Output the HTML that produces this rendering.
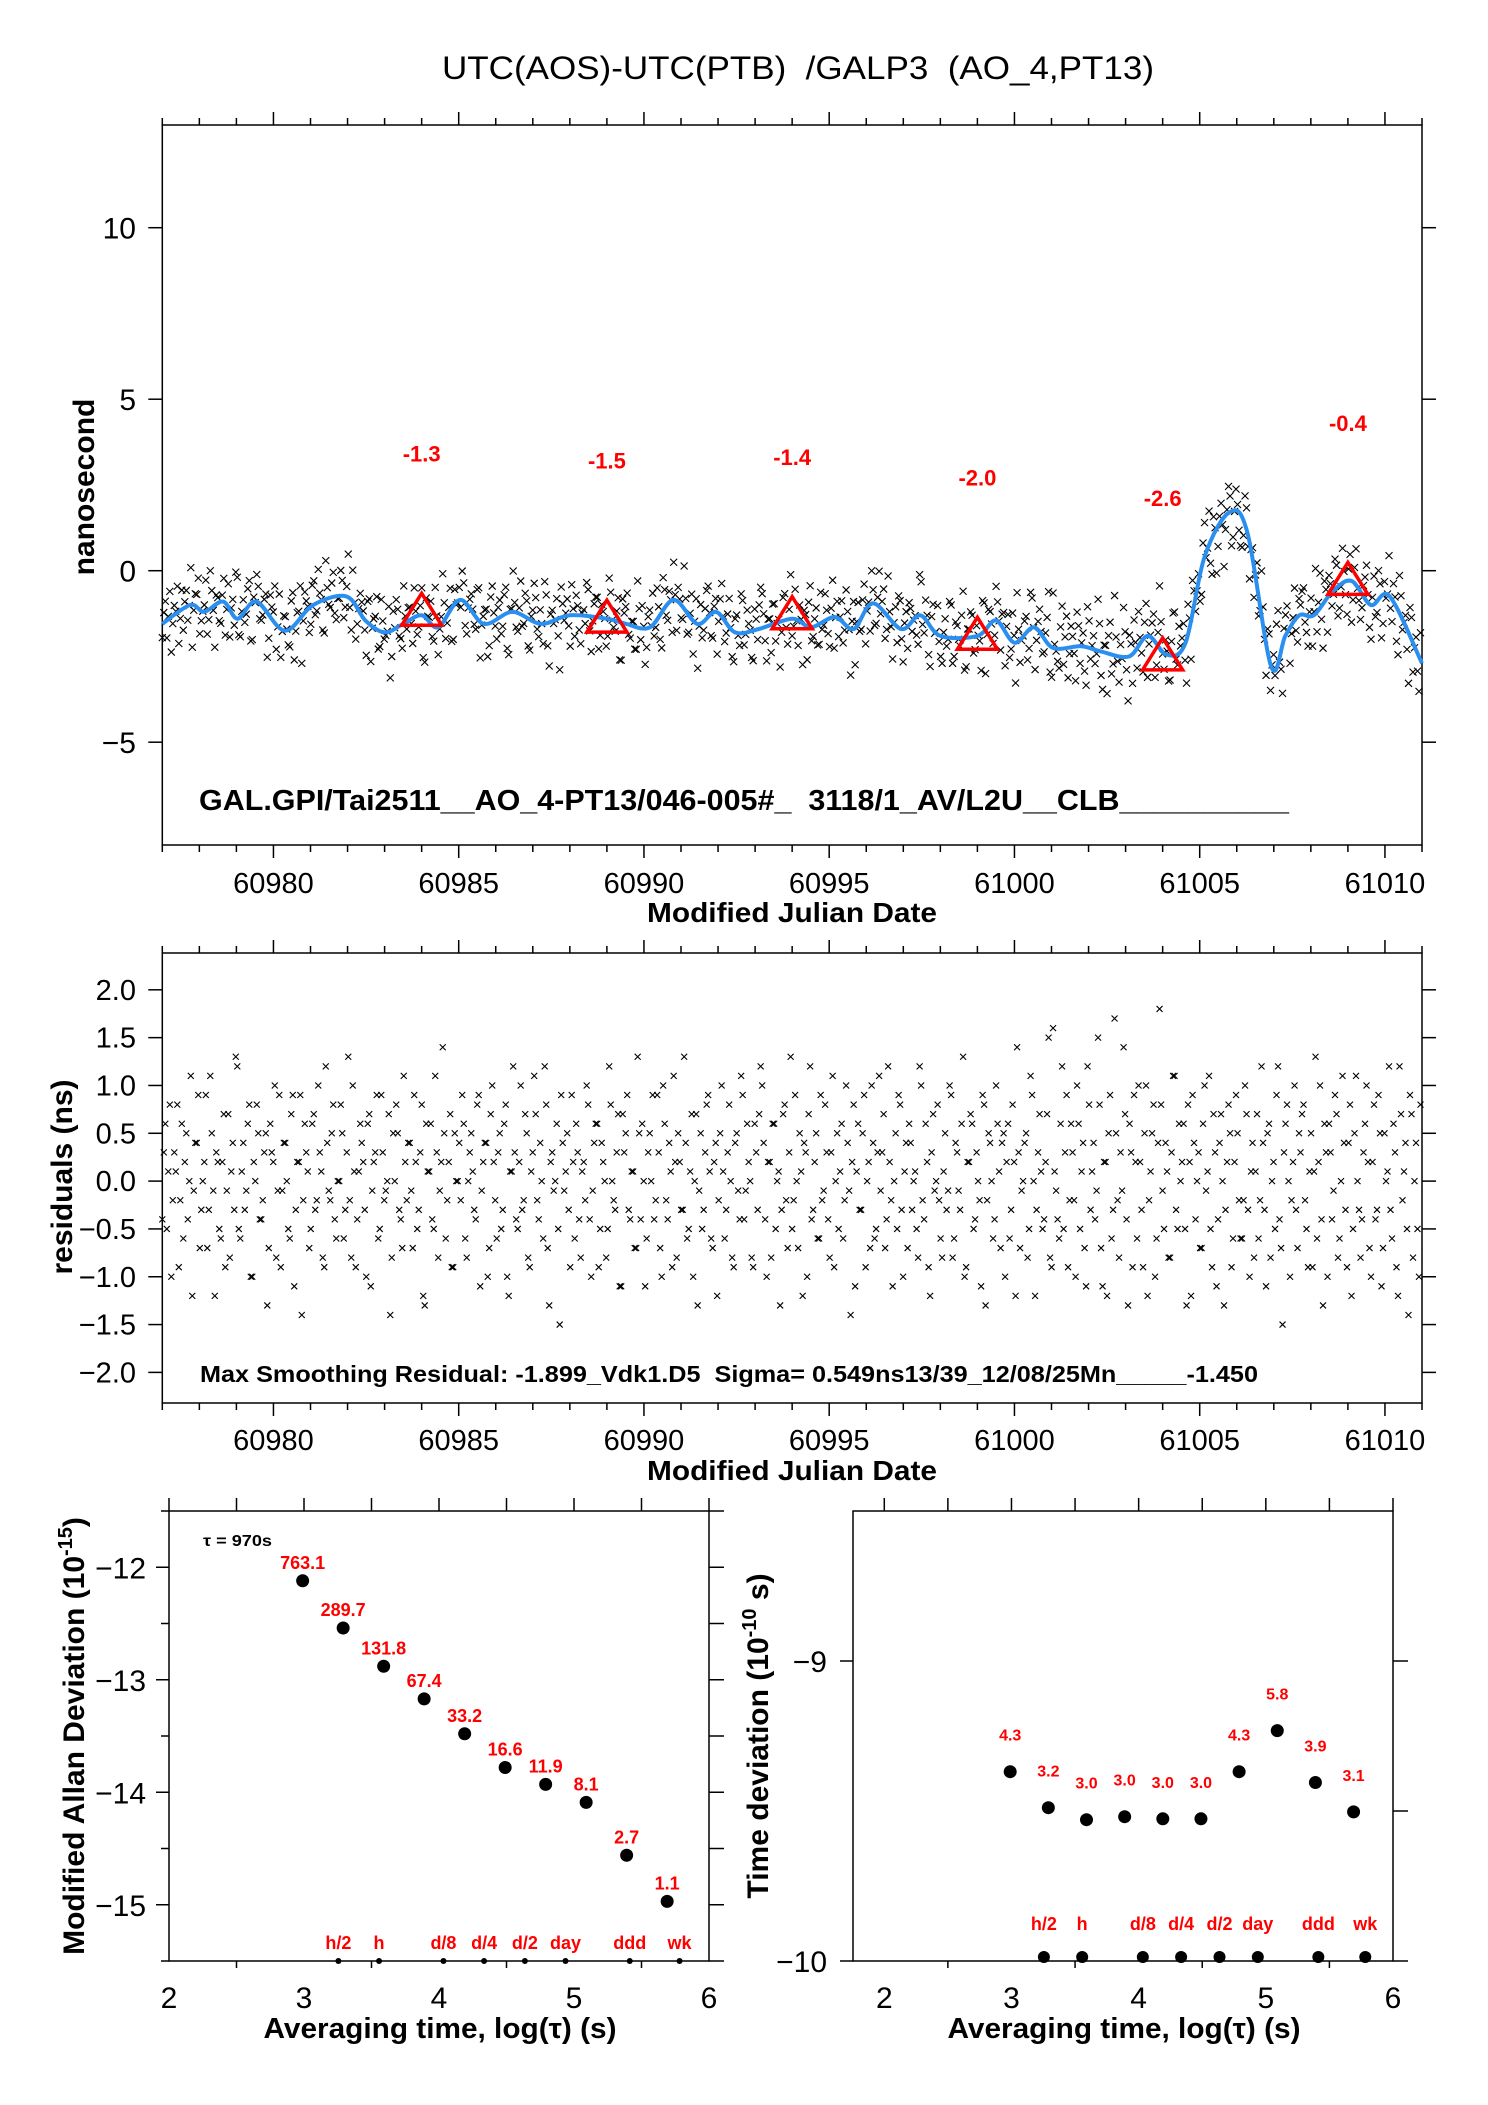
<!DOCTYPE html>
<html><head><meta charset="utf-8"><title>UTC(AOS)-UTC(PTB) GALP3</title>
<style>
html,body{margin:0;padding:0;background:#fff;}
svg{display:block;font-family:"Liberation Sans",Arial,sans-serif;}
.pre{white-space:pre;}
</style></head>
<body>
<svg id="chart" width="1488" height="2105" viewBox="0 0 1488 2105" xmlns="http://www.w3.org/2000/svg">
<rect x="0" y="0" width="1488" height="2105" fill="#fff"/>
<text class="pre" x="798" y="79" font-size="32" text-anchor="middle" textLength="712" lengthAdjust="spacingAndGlyphs">UTC(AOS)-UTC(PTB)  /GALP3  (AO_4,PT13)</text>
<g id="top"></g>
<g id="mid"></g>
<g id="bl"></g>
<g id="br"></g>
</svg>
<script>
// ---------- data ----------
const curveDays = [60977.0,60977.75,60978.13,60978.64,60979.03,60979.54,60980.31,60981.07,60981.97,60982.48,60983.0,60983.5,60984.0,60984.45,60985.04,60985.68,60986.45,60987.22,60988.0,60989.0,60989.52,60990.16,60990.8,60991.44,60991.95,60992.46,60993.1,60994.0,60994.51,60995.15,60995.66,60996.18,60996.94,60997.46,60998.0,60999.0,60999.5,61000.0,61000.53,61001.04,61001.8,61002.32,61003.09,61003.6,61004.11,61004.62,61005.13,61005.8,61006.29,61006.93,61007.31,61007.69,61008.08,61008.59,61009.1,61009.62,61010.13,61011.0];
const curveVals = [-1.55,-1.0,-1.2,-0.9,-1.4,-0.9,-1.75,-1.0,-0.75,-1.45,-1.8,-1.55,-1.3,-1.65,-0.85,-1.55,-1.2,-1.55,-1.3,-1.4,-1.55,-1.65,-0.85,-1.55,-1.2,-1.8,-1.7,-1.4,-1.65,-1.35,-1.7,-0.95,-1.7,-1.3,-1.9,-1.9,-1.45,-2.1,-1.65,-2.25,-2.2,-2.35,-2.5,-1.9,-2.45,-2.1,0.4,1.7,1.1,-2.8,-1.9,-1.3,-1.3,-0.6,-0.3,-1.0,-0.75,-2.7];
const residuals = [0.3,-0.5,0.8,-0.2,0.1,-0.9,0.6,0.2,-0.4,1.1,-0.1,0.4,-0.7,0.0,0.9,-0.3,0.5,-1.2,0.2,-0.6,
0.7,-0.1,-0.8,0.4,1.3,-0.5,0.1,-0.3,0.6,-1.0,0.2,0.8,-0.4,-0.2,0.5,-0.7,0.3,1.0,-0.1,-0.9,
0.4,0.0,-0.6,0.9,-0.3,0.2,-1.4,0.6,0.1,-0.5,0.7,-0.2,0.3,-0.8,1.2,-0.1,0.5,-0.4,0.0,0.8,
-0.6,0.3,-0.2,1.0,-0.9,0.1,0.4,-0.3,0.6,-1.1,0.2,0.9,-0.5,0.3,-0.1,0.7,-0.8,0.0,0.5,-0.4,
1.1,-0.2,0.4,-0.7,0.2,-0.3,0.8,-1.3,0.1,0.6,-0.5,0.3,-0.1,1.4,-0.6,0.2,-0.9,0.5,0.0,-0.2,
0.6,-0.8,0.3,0.1,-0.4,0.9,-0.1,0.4,-1.0,0.7,0.2,-0.6,0.5,-0.3,0.8,-1.2,0.1,0.3,-0.5,1.0,
-0.2,0.5,-0.9,0.3,0.7,-0.4,0.0,1.2,-0.7,0.2,-0.1,0.6,-1.5,0.4,0.1,-0.3,0.9,-0.6,0.3,-0.8,
0.2,1.0,-0.4,-0.1,0.6,-0.9,0.4,0.0,-0.5,0.8,-0.2,0.3,-1.1,0.7,0.5,-0.3,0.1,-0.7,1.3,-0.4,
0.0,-0.6,0.5,0.9,-0.2,0.3,-1.0,0.6,-0.4,0.1,1.1,-0.8,0.2,-0.3,0.4,-0.5,0.7,0.0,-1.3,0.5,
-0.3,0.8,0.1,-0.7,0.4,-0.2,1.0,-0.6,0.3,0.0,-0.9,0.5,-0.4,0.9,-0.1,0.2,-0.8,0.6,-0.3,1.2,
0.4,-1.0,0.2,0.6,-0.5,0.1,-0.3,0.8,-0.7,1.3,-0.2,0.0,0.5,-1.2,0.3,0.7,-0.4,0.2,-0.6,0.9,
-0.1,0.3,-0.8,1.1,0.0,-0.5,0.6,-0.2,0.4,-1.4,0.8,0.1,-0.3,0.5,-0.9,0.2,1.0,-0.6,0.3,-0.1,
0.7,-0.4,0.2,-1.1,0.5,0.9,-0.3,0.1,-0.7,0.4,0.0,-0.5,1.2,-0.2,0.6,-0.9,0.3,-0.1,0.8,-0.6,
0.1,-0.3,1.0,-0.8,0.4,-0.1,0.6,-1.0,0.2,0.7,-0.5,0.3,-0.2,0.9,-1.3,0.5,0.0,-0.4,0.6,-0.7,
0.5,0.2,-0.6,0.8,-1.2,0.3,-0.1,0.4,-0.8,1.1,0.0,-0.3,0.7,-0.5,0.2,1.5,-0.9,0.1,-0.4,0.6,
-0.5,0.9,-0.2,0.3,-1.0,0.6,0.1,-0.7,1.2,-0.3,0.4,-0.1,0.8,-1.1,0.2,0.5,-0.6,1.7,-0.2,0.3,
1.4,-0.4,0.6,-0.9,0.2,1.0,-0.3,0.5,-1.2,0.1,0.8,-0.6,1.8,-0.1,0.4,-0.8,0.3,1.1,-0.5,0.0,
0.6,-1.3,0.2,0.9,-0.4,0.3,-0.7,1.0,0.1,-0.5,0.7,-1.1,0.4,0.0,-0.3,0.8,-0.9,0.2,0.5,-0.6,
-0.2,0.7,-1.0,0.4,0.1,-0.6,1.2,-0.3,0.5,-0.8,0.2,0.9,-0.4,-1.5,0.6,0.0,-0.2,1.0,-0.7,0.3,
0.8,-0.5,0.1,-0.9,1.3,0.2,-0.4,0.6,-1.0,0.3,-0.1,0.7,-0.6,1.1,-0.3,0.4,-1.2,0.5,0.0,-0.8,
0.3,1.0,-0.7,0.2,-0.4,0.9,-1.1,0.5,0.1,-0.3,0.6,-0.9,1.2,-0.2,0.4,-1.4,0.7,0.0,-0.5,0.8];
const residualsB = [-0.4,0.6,0.1,-1.0,0.3,0.8,-0.2,-0.6,0.5,0.0,-1.2,0.4,0.9,-0.3,0.2,-0.7,1.1,-0.1,0.3,-0.5,
0.2,-0.9,0.7,0.1,-0.3,1.2,-0.6,0.4,-0.1,0.8,-1.0,0.0,0.5,-0.4,0.3,-1.3,0.6,0.2,-0.8,0.9,
-0.1,0.4,-0.5,0.7,-1.1,0.2,0.9,-0.2,0.3,-0.7,0.6,-0.3,1.0,0.1,-0.9,0.4,-0.2,0.8,-0.6,0.0,
0.5,-0.3,1.3,-0.8,0.1,-0.4,0.6,0.2,-1.0,0.7,-0.1,0.3,-0.6,0.9,-0.2,0.0,-1.4,0.5,0.8,-0.3,
-0.7,0.2,0.4,-0.1,0.9,-0.5,0.3,-1.2,0.6,0.1,-0.4,1.1,-0.8,0.2,0.5,-0.2,0.7,-0.9,0.0,0.4,
0.9,-0.6,0.0,0.5,-0.3,0.8,-1.1,0.2,0.4,-0.7,1.0,-0.2,0.3,-0.5,0.6,-1.0,0.1,1.2,-0.4,0.2,
-0.3,0.7,-0.8,0.1,1.1,-0.2,0.4,-0.6,0.8,-1.3,0.3,0.0,-0.5,0.9,-0.1,0.5,-0.9,0.2,0.6,-0.4,
0.1,-0.2,0.8,-1.0,0.4,0.6,-0.5,0.2,-0.8,1.2,0.0,-0.3,0.7,-1.1,0.3,0.9,-0.4,0.1,-0.7,0.5,
0.6,-1.1,0.3,0.0,-0.4,0.9,-0.7,1.0,-0.2,0.4,-0.9,0.2,0.5,-0.3,1.3,-0.6,0.1,-1.0,0.7,-0.1,
-0.5,0.3,0.9,-0.6,0.2,-1.2,0.5,0.1,-0.3,0.8,-0.8,0.4,-0.1,1.1,-0.4,0.6,0.0,-0.9,0.3,0.7,
1.0,-0.4,0.2,-0.8,0.6,0.0,-1.3,0.7,-0.2,0.3,-0.5,0.9,-0.7,0.1,0.4,-1.0,1.2,-0.3,0.5,-0.6,
-0.2,0.8,-0.4,0.3,-0.9,0.5,0.1,-0.6,1.0,-0.1,0.2,-1.1,0.6,-0.3,0.9,0.0,-0.7,0.4,-0.5,1.1,
0.3,-0.7,1.2,-0.2,0.0,-0.5,0.8,-1.0,0.4,0.6,-0.3,0.1,-0.8,1.0,-0.4,0.2,-1.2,0.7,0.0,-0.2,
-0.8,0.5,-0.1,0.9,-0.6,0.3,-0.3,1.3,-0.9,0.2,0.6,-0.4,0.0,-1.1,0.8,-0.2,0.4,-0.6,1.0,0.1,
0.4,-1.0,0.6,-0.3,0.2,1.4,-0.7,0.0,0.5,-0.5,0.9,-1.2,0.3,0.1,-0.4,0.7,-0.8,1.6,-0.1,-0.6,
1.2,0.3,-0.9,0.6,-0.2,1.0,-0.5,0.4,-1.1,0.8,0.1,-0.4,1.5,-0.7,0.2,-1.2,0.9,-0.3,0.5,-0.8,
-0.1,0.7,-1.3,0.3,0.9,-0.6,0.2,-0.9,1.0,-0.2,0.5,-1.0,0.4,0.8,-0.5,0.1,-0.8,1.1,-0.3,0.6,
0.2,-0.5,0.8,-1.2,0.4,0.0,-0.7,0.6,-0.1,1.1,-0.9,0.3,-0.4,0.7,-1.3,0.2,0.5,-0.6,0.9,-0.2,
-0.6,1.0,-0.3,0.1,-0.8,0.7,-0.2,0.4,-1.1,0.6,0.0,-0.5,1.2,-0.7,0.3,0.8,-1.0,0.2,-0.3,0.5,
0.7,-0.2,-0.9,0.5,0.1,-0.6,1.0,-1.3,0.3,0.6,-0.4,0.9,-0.8,0.0,0.4,-0.9,0.8,-0.5,1.1,-0.3,
-0.4,0.6,0.2,-1.0,0.8,-0.3,0.5,-0.7,0.0,1.2,-0.6,0.3,-1.2,0.7,0.1,-0.5,0.9,-0.8,0.4,-1.0];
const triDays = [60984,60989,60994,60999,61004,61009];
const triVals = [-1.3,-1.5,-1.4,-2.0,-2.6,-0.4];
const triLabels = ["-1.3","-1.5","-1.4","-2.0","-2.6","-0.4"];
const mjdTicks = [60980,60985,60990,60995,61000,61005,61010];
const topYTicks = [10,5,0,-5];
const topYLabels = ["10","5","0","\u22125"];
const midYTicks = [2.0,1.5,1.0,0.5,0.0,-0.5,-1.0,-1.5,-2.0];
const midYLabels = ["2.0","1.5","1.0","0.5","0.0","\u22120.5","\u22121.0","\u22121.5","\u22122.0"];
const adevLogTau = [2.99,3.29,3.59,3.89,4.19,4.49,4.79,5.09,5.39,5.69];
const adevVals = [-12.12,-12.54,-12.88,-13.17,-13.48,-13.78,-13.93,-14.09,-14.56,-14.97];
const adevLabels = ["763.1","289.7","131.8","67.4","33.2","16.6","11.9","8.1","2.7","1.1"];
const tdevLogTau = [2.99,3.29,3.59,3.89,4.19,4.49,4.79,5.09,5.39,5.69];
const tdevVals = [-9.369,-9.489,-9.529,-9.519,-9.526,-9.526,-9.369,-9.232,-9.405,-9.503];
const tdevLabels = ["4.3","3.2","3.0","3.0","3.0","3.0","4.3","5.8","3.9","3.1"];
const markLogTau = [3.255,3.556,4.033,4.334,4.636,4.937,5.413,5.782];
const markLabels = ["h/2","h","d/8","d/4","d/2","day","ddd","wk"];
const logTicks = [2,3,4,5,6];
const adevYTicks = [-12,-13,-14,-15];
const adevYLabels = ["\u221212","\u221213","\u221214","\u221215"];
const tdevYTicks = [-9,-10];
const tdevYLabels = ["\u22129","\u221210"];

// ---------- helpers ----------
const NS = "http://www.w3.org/2000/svg";
function mk(parent, tag, attrs, txt){
  const e = document.createElementNS(NS, tag);
  for (const k in attrs) e.setAttribute(k, attrs[k]);
  if (txt !== undefined) e.textContent = txt;
  parent.appendChild(e);
  return e;
}
function line(p,x1,y1,x2,y2,w){ return mk(p,'line',{x1:x1,y1:y1,x2:x2,y2:y2,stroke:'#000','stroke-width':w||1.5}); }
function smoothPath(pts){
  let d = 'M'+pts[0][0].toFixed(1)+','+pts[0][1].toFixed(1);
  for (let i=0;i<pts.length-1;i++){
    const p0=pts[Math.max(0,i-1)],p1=pts[i],p2=pts[i+1],p3=pts[Math.min(pts.length-1,i+2)];
    const c1x=p1[0]+(p2[0]-p0[0])/6,c1y=p1[1]+(p2[1]-p0[1])/6;
    const c2x=p2[0]-(p3[0]-p1[0])/6,c2y=p2[1]-(p3[1]-p1[1])/6;
    d+=' C'+c1x.toFixed(1)+','+c1y.toFixed(1)+' '+c2x.toFixed(1)+','+c2y.toFixed(1)+' '+p2[0].toFixed(1)+','+p2[1].toFixed(1);
  }
  return d;
}
function curveAt(t){
  for (let i=0;i<curveDays.length-1;i++){
    if (t>=curveDays[i] && t<=curveDays[i+1]){
      const f=(t-curveDays[i])/(curveDays[i+1]-curveDays[i]);
      return curveVals[i]+f*(curveVals[i+1]-curveVals[i]);
    }
  }
  return curveVals[curveVals.length-1];
}
function xmark(p,x,y,s){
  return mk(p,'path',{d:'M'+(x-s)+','+(y-s)+'L'+(x+s)+','+(y+s)+'M'+(x-s)+','+(y+s)+'L'+(x+s)+','+(y-s),stroke:'#000','stroke-width':1.1,fill:'none'});
}

// ---------- shared MJD axis ----------
const T0=60977, T1=61011, PL=162.3, PR=1422;
const X = t => PL + (t-T0)*(PR-PL)/(T1-T0);
const seriesList = [residuals, residualsB];
const seriesOffset = [0.5, 0.0];

function mjdAxis(g, top, bottom, labelY, titleY){
  mk(g,'rect',{x:PL,y:top,width:PR-PL,height:bottom-top,fill:'none',stroke:'#000','stroke-width':1.5});
  for (let d=T0; d<=T1; d++){
    const major = mjdTicks.indexOf(d)>=0;
    const L = major?13:7;
    line(g,X(d),top,X(d),top-L);
    line(g,X(d),bottom,X(d),bottom+L);
  }
  mjdTicks.forEach(d=>{
    const t = mk(g,'text',{x:X(d),y:labelY,'font-size':29,'text-anchor':'middle'},String(d));
    
    
  });
  const tt = mk(g,'text',{x:792,y:titleY,'font-size':28,'font-weight':'bold','text-anchor':'middle',textLength:290,lengthAdjust:'spacingAndGlyphs'},'Modified Julian Date');
  
  
}

// ---------- top plot ----------
(function(){
  const g = document.getElementById('top');
  const top=125, bottom=845;
  const Y = v => 570.7 - v*34.3;
  mjdAxis(g, top, bottom, 893, 922);
  topYTicks.forEach((v,i)=>{
    line(g,PL,Y(v),PL-14,Y(v)); line(g,PR,Y(v),PR+14,Y(v));
    const t = mk(g,'text',{x:136,y:Y(v)+11,'font-size':30,'text-anchor':'end'},topYLabels[i]);
    
    
  });
  const yt = mk(g,'text',{x:0,y:0,'font-size':30,'font-weight':'bold','text-anchor':'middle',transform:'translate(94,487) rotate(-90)'},'nanosecond');
  
  
  const sc = mk(g,'g',{});
  
  
  seriesList.forEach((arr,k)=>{
    const N = arr.length;
    arr.forEach((r,i)=>{
      const t = T0 + (i+seriesOffset[k])*(T1-T0)/N;
      const m = xmark(sc, X(t), Y(curveAt(t)+r), 3.5);
      
      
    });
  });
  const pts = curveDays.map((d,i)=>[X(d),Y(curveVals[i])]);
  const c = mk(g,'path',{d:smoothPath(pts),fill:'none',stroke:'#2b8ff0','stroke-width':4,'stroke-linejoin':'round'});
  
  
  triDays.forEach((d,i)=>{
    const x=X(d), y=Y(triVals[i]);
    const tr = mk(g,'path',{d:'M'+x+','+(y-22)+' L'+(x+20)+','+(y+10)+' L'+(x-20)+','+(y+10)+' Z',fill:'none',stroke:'#f00','stroke-width':3.5});
    
    
    const lb = mk(g,'text',{x:x,y:Y(triVals[i]+4.48),'font-size':22,'font-weight':'bold',fill:'#f00','text-anchor':'middle'},triLabels[i]);
    
    
  });
  const an = mk(g,'text',{class:'pre',x:199,y:810,'font-size':29,'font-weight':'bold',textLength:1090,lengthAdjust:'spacingAndGlyphs'},'GAL.GPI/Tai2511__AO_4-PT13/046-005#_  3118/1_AV/L2U__CLB__________');
  
  
})();

// ---------- middle plot ----------
(function(){
  const g = document.getElementById('mid');
  const top=953, bottom=1403, vmax=2.385, vmin=-2.32;
  const Y = v => top + (vmax-v)*(bottom-top)/(vmax-vmin);
  mjdAxis(g, top, bottom, 1450, 1480);
  midYTicks.forEach((v,i)=>{
    line(g,PL,Y(v),PL-14,Y(v)); line(g,PR,Y(v),PR+14,Y(v));
    const t = mk(g,'text',{x:136,y:Y(v)+10,'font-size':29,'text-anchor':'end'},midYLabels[i]);
    
    
  });
  const yt = mk(g,'text',{x:0,y:0,'font-size':30,'font-weight':'bold','text-anchor':'middle',transform:'translate(72,1177) rotate(-90)'},'residuals (ns)');
  
  
  seriesList.forEach((arr,k)=>{
    const N = arr.length;
    arr.forEach((r,i)=>{
      const t = T0 + (i+seriesOffset[k])*(T1-T0)/N;
      const m = xmark(g, X(t), Y(r), 3);
      
      
    });
  });
  const an = mk(g,'text',{class:'pre',x:200,y:1391,'font-size':23,'font-weight':'bold',textLength:1058,lengthAdjust:'spacingAndGlyphs'},'Max Smoothing Residual: -1.899_Vdk1.D5  Sigma= 0.549ns13/39_12/08/25Mn_____-1.450');
  
  
  an.setAttribute('y', 1382);
})();

// ---------- bottom panels ----------
function logPanel(g, L, R, xmin, xmax, top, bottom){
  const X2 = l => L + (l-xmin)*(R-L)/(xmax-xmin);
  mk(g,'rect',{x:L,y:top,width:R-L,height:bottom-top,fill:'none',stroke:'#000','stroke-width':1.5});
  for (let l=2; l<=6.001; l+=0.5){
    line(g,X2(l),top,X2(l),top-13);
    line(g,X2(l),bottom,X2(l),bottom+(Number.isInteger(l)?0:7));
  }
  logTicks.forEach(l=>{
    const t = mk(g,'text',{x:X2(l),y:2008,'font-size':30,'text-anchor':'middle'},String(l));
    
    
  });
  return X2;
}
(function(){
  const g = document.getElementById('bl');
  const top=1511, bottom=1961;
  const X2 = logPanel(g,169,709,2,6,top,bottom);
  const Y = v => top + (-11.5 - v)*(bottom-top)/4;
  for (let v=-11.5; v>=-15.5; v-=0.5){
    line(g,709,Y(v),724,Y(v));
    line(g,169,Y(v),169-(Number.isInteger(v)?13:8),Y(v));
  }
  adevYTicks.forEach((v,i)=>{
    const t = mk(g,'text',{x:146,y:Y(v)+11,'font-size':30,'text-anchor':'end'},adevYLabels[i]);
    
    
  });
  const yt = mk(g,'text',{x:0,y:0,'font-size':30,'font-weight':'bold','text-anchor':'middle',transform:'translate(84,1736) rotate(-90)'});
  
  
  mk(yt,'tspan',{},'Modified Allan Deviation (10');
  mk(yt,'tspan',{dy:-12,'font-size':20},'-15');
  mk(yt,'tspan',{dy:12},')');
  const xt = mk(g,'text',{x:440,y:2038,'font-size':29,'font-weight':'bold','text-anchor':'middle',textLength:353,lengthAdjust:'spacingAndGlyphs'},'Averaging time, log(\u03c4) (s)');
  
  
  const tau = mk(g,'text',{x:203,y:1546,'font-size':16,'font-weight':'bold',textLength:69,lengthAdjust:'spacingAndGlyphs'},'\u03c4 = 970s');
  
  
  adevLogTau.forEach((l,i)=>{
    const c = mk(g,'circle',{cx:X2(l),cy:Y(adevVals[i]),r:6.5,fill:'#000'});
    
    
    const t = mk(g,'text',{x:X2(l),y:Y(adevVals[i])-12,'font-size':18,'font-weight':'bold',fill:'#f00','text-anchor':'middle'},adevLabels[i]);
    
    
  });
  markLogTau.forEach((l,i)=>{
    const c = mk(g,'circle',{cx:X2(l),cy:bottom,r:3,fill:'#000'});
    
    
    const t = mk(g,'text',{x:X2(l),y:1949,'font-size':18,'font-weight':'bold',fill:'#f00','text-anchor':'middle'},markLabels[i]);
    
    
  });
})();
(function(){
  const g = document.getElementById('br');
  const top=1511, bottom=1961;
  const X2 = logPanel(g,853,1393,1.754,6,top,bottom);
  const Y = v => top + (-8.5 - v)*(bottom-top)/1.5;
  [-9,-9.5,-10].forEach(v=>{ line(g,1393,Y(v),1408,Y(v)); });
  tdevYTicks.forEach((v,i)=>{
    line(g,853,Y(v),840,Y(v));
    const t = mk(g,'text',{x:827,y:Y(v)+11,'font-size':30,'text-anchor':'end'},tdevYLabels[i]);
    
    
  });
  const yt = mk(g,'text',{x:0,y:0,'font-size':30,'font-weight':'bold','text-anchor':'middle',transform:'translate(768,1736) rotate(-90)'});
  
  
  mk(yt,'tspan',{},'Time deviation (10');
  mk(yt,'tspan',{dy:-12,'font-size':20},'-10');
  mk(yt,'tspan',{dy:12},' s)');
  const xt = mk(g,'text',{x:1124,y:2038,'font-size':29,'font-weight':'bold','text-anchor':'middle',textLength:353,lengthAdjust:'spacingAndGlyphs'},'Averaging time, log(\u03c4) (s)');
  
  
  tdevLogTau.forEach((l,i)=>{
    const c = mk(g,'circle',{cx:X2(l),cy:Y(tdevVals[i]),r:6.5,fill:'#000'});
    
    
    const t = mk(g,'text',{x:X2(l),y:Y(tdevVals[i])-31,'font-size':16,'font-weight':'bold',fill:'#f00','text-anchor':'middle'},tdevLabels[i]);
    
    
  });
  markLogTau.forEach((l,i)=>{
    const c = mk(g,'circle',{cx:X2(l),cy:1957,r:6,fill:'#000'});
    
    
    const t = mk(g,'text',{x:X2(l),y:1930,'font-size':18,'font-weight':'bold',fill:'#f00','text-anchor':'middle'},markLabels[i]);
    
    
  });
})();
</script>
</body></html>
